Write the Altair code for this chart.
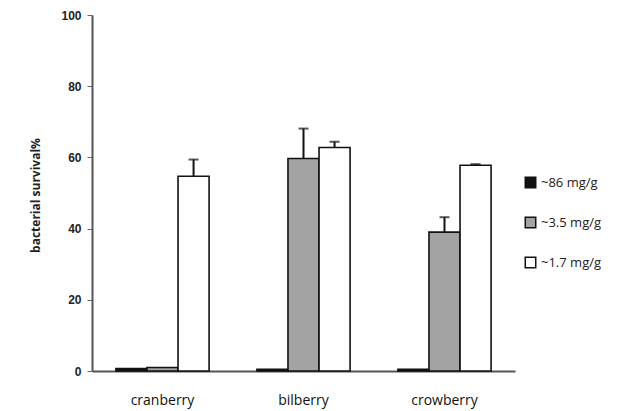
import altair as alt
import pandas as pd

categories = ["cranberry", "bilberry", "crowberry"]
doses = ["~86 mg/g", "~3.5 mg/g", "~1.7 mg/g"]
values_86 = [0.7, 0.5, 0.5]
values_35 = [1.0, 59.7, 39.0]
values_17 = [54.7, 62.8, 57.8]
err_86 = [0.0, 0.0, 0.0]
err_35 = [0.0, 8.4, 4.2]
err_17 = [4.7, 1.6, 0.3]

rows = []
for i, c in enumerate(categories):
    for d, vals, errs in zip(doses, [values_86, values_35, values_17], [err_86, err_35, err_17]):
        rows.append({"category": c, "dose": d, "value": vals[i], "top": vals[i] + errs[i], "err": errs[i]})
df = pd.DataFrame(rows)

x_enc = alt.X("category:N", sort=categories, title=None,
              scale=alt.Scale(paddingInner=0, paddingOuter=0),
              axis=alt.Axis(labelAngle=0, ticks=False, labelPadding=22,
                            labelFont="Open Sans", labelFontSize=14,
                            labelColor="#111", domainColor="#555", domainWidth=2))
xo = alt.XOffset("dose:N", sort=doses, scale=alt.Scale(paddingInner=0, paddingOuter=0.77))
y_scale = alt.Scale(domain=[0, 100], nice=False)

bars = alt.Chart(df).mark_bar(stroke="#111", strokeWidth=1.6).encode(
    x=x_enc,
    xOffset=xo,
    y=alt.Y("value:Q", scale=y_scale, title="bacterial survival%",
            axis=alt.Axis(values=[0, 20, 40, 60, 80, 100], grid=False, tickSize=5,
                          tickColor="#666", domainColor="#555", domainWidth=2,
                          labelFont="Arial", labelFontSize=12, labelFontWeight="bold",
                          labelColor="#222", labelPadding=6,
                          titleFont="Open Sans", titleFontSize=12, titleFontWeight="bold",
                          titleColor="#222", titleX=-50, titleY=180)),
    fill=alt.Fill("dose:N", sort=doses, title=None,
                  scale=alt.Scale(domain=doses, range=["#111111", "#a3a3a3", "#ffffff"]),
                  legend=alt.Legend(orient="none", legendX=432, legendY=161,
                                    symbolType="square", symbolSize=110,
                                    symbolStrokeColor="#111", symbolStrokeWidth=1.5,
                                    labelFont="Open Sans", labelFontSize=13,
                                    labelColor="#222", rowPadding=23, labelOffset=4)),
)

err_df = df[df["err"] > 0]
rules = alt.Chart(err_df).mark_rule(color="#111", strokeWidth=2).encode(
    x=alt.X("category:N", sort=categories),
    xOffset=xo,
    y=alt.Y("value:Q", scale=y_scale),
    y2="top:Q",
)
caps = alt.Chart(err_df).mark_tick(color="#111", thickness=2, size=10).encode(
    x=alt.X("category:N", sort=categories),
    xOffset=xo,
    y=alt.Y("top:Q", scale=y_scale),
)

chart = alt.layer(bars, rules, caps).properties(
    width=423, height=356,
    autosize=alt.AutoSizeParams(type="none"),
    padding={"left": 84, "top": 7, "right": 98, "bottom": 40},
    background="white",
).configure_view(stroke=None)

chart.save("out.html", embed_options={"renderer": "svg", "actions": False})
